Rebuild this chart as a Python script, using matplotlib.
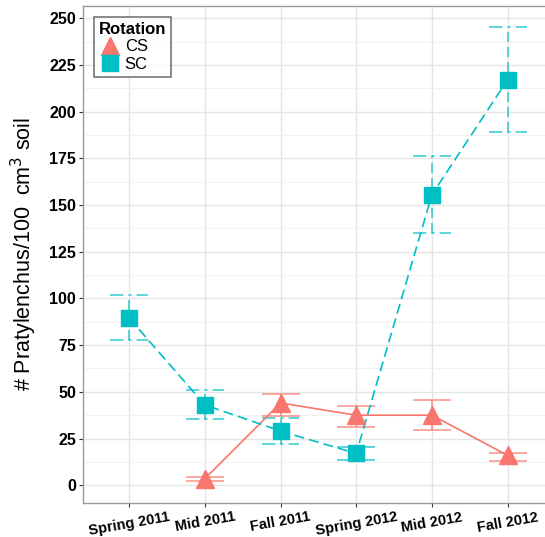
import matplotlib.pyplot as plt
import numpy as np

plt.rcParams['font.family'] = ['Liberation Sans', 'DejaVu Sans']

# dados
periodos = ['Spring 2011', 'Mid 2011', 'Fall 2011', 'Spring 2012', 'Mid 2012', 'Fall 2012']

cs_media = [np.nan, 3.5, 44, 37.5, 37.5, 16]
cs_baixo = [np.nan, 2.5, 37, 31, 29.5, 13]
cs_alto = [np.nan, 4.5, 49, 42.5, 45.5, 17.5]

sc_media = [89.5, 43, 29, 17, 155.5, 217]
sc_baixo = [77.5, 35.5, 22, 13.5, 135, 189]
sc_alto = [102, 51, 36, 20.5, 176, 245]

cor_cs = '#F8766D'
cor_sc = '#00BFC4'

fig = plt.figure(figsize=(5.45, 5.37), dpi=100)
ax = fig.add_axes([83 / 545, (537 - 503) / 537, 470 / 545, (503 - 6) / 537])

x = np.arange(len(periodos))

# barras de erro
cs_m = np.array(cs_media)
sc_m = np.array(sc_media)
ax.errorbar(x, cs_m, yerr=[cs_m - np.array(cs_baixo), np.array(cs_alto) - cs_m],
            fmt='none', ecolor=cor_cs, alpha=0.75, elinewidth=1.2,
            capsize=14, capthick=1.2, zorder=3)
eb = ax.errorbar(x, sc_m, yerr=[sc_m - np.array(sc_baixo), np.array(sc_alto) - sc_m],
                 fmt='none', ecolor=cor_sc, alpha=0.75, elinewidth=1.2,
                 capsize=0, zorder=3)
for l in eb[2]:
    l.set_linestyle((0, (6, 3)))

# caps tracejados para SC
for xi, lo, hi in zip(x, sc_baixo, sc_alto):
    for yy in (lo, hi):
        ax.plot([xi - 0.25, xi + 0.25], [yy, yy], color=cor_sc, alpha=0.75,
                lw=1.2, ls=(0, (8, 3, 2, 3)), zorder=3)

# linhas e pontos
ax.plot(x, cs_m, color=cor_cs, lw=1.2, zorder=4)
ax.plot(x, cs_m, ls='none', marker='^', ms=13, color=cor_cs, zorder=5, label='CS')
ax.plot(x, sc_m, color=cor_sc, lw=1.2, ls=(0, (6, 3)), zorder=4)
ax.plot(x, sc_m, ls='none', marker='s', ms=11, color=cor_sc, zorder=5, label='SC')

ax.set_xlim(-0.61, 5.6)
ax.set_ylim(-9.5, 256.5)
ax.set_yticks(np.arange(0, 251, 25))
ax.set_yticks(np.arange(12.5, 251, 25), minor=True)
ax.set_xticks(x)
ax.set_xticklabels(periodos, rotation=10, fontweight='bold', fontsize=10.5)
for t in ax.get_yticklabels():
    t.set_fontweight('bold')
    t.set_fontsize(11.5)

ax.grid(True, which='major', color='#E5E5E5', lw=1.0)
ax.grid(True, which='minor', axis='y', color='#F2F2F2', lw=0.8)
ax.set_axisbelow(True)
ax.tick_params(axis='both', which='major', length=3, color='#333333', pad=2)
ax.tick_params(axis='y', which='minor', length=0)
for s in ax.spines.values():
    s.set_color('#999999')
    s.set_linewidth(1.0)

ax.set_ylabel('# Pratylenchus/100  cm$^3$ soil', fontsize=15.5, labelpad=7)

leg = ax.legend(title='Rotation', loc='upper left', bbox_to_anchor=(0.023, 0.978),
                borderaxespad=0, fontsize=12,
                title_fontproperties={'weight': 'bold', 'size': 12},
                frameon=True, fancybox=False, edgecolor='#555555',
                handlelength=1.3, handletextpad=0.25, borderpad=0.3,
                labelspacing=0.15, alignment='left')
leg.get_frame().set_linewidth(1.2)

fig.savefig('out.png', dpi=100)
